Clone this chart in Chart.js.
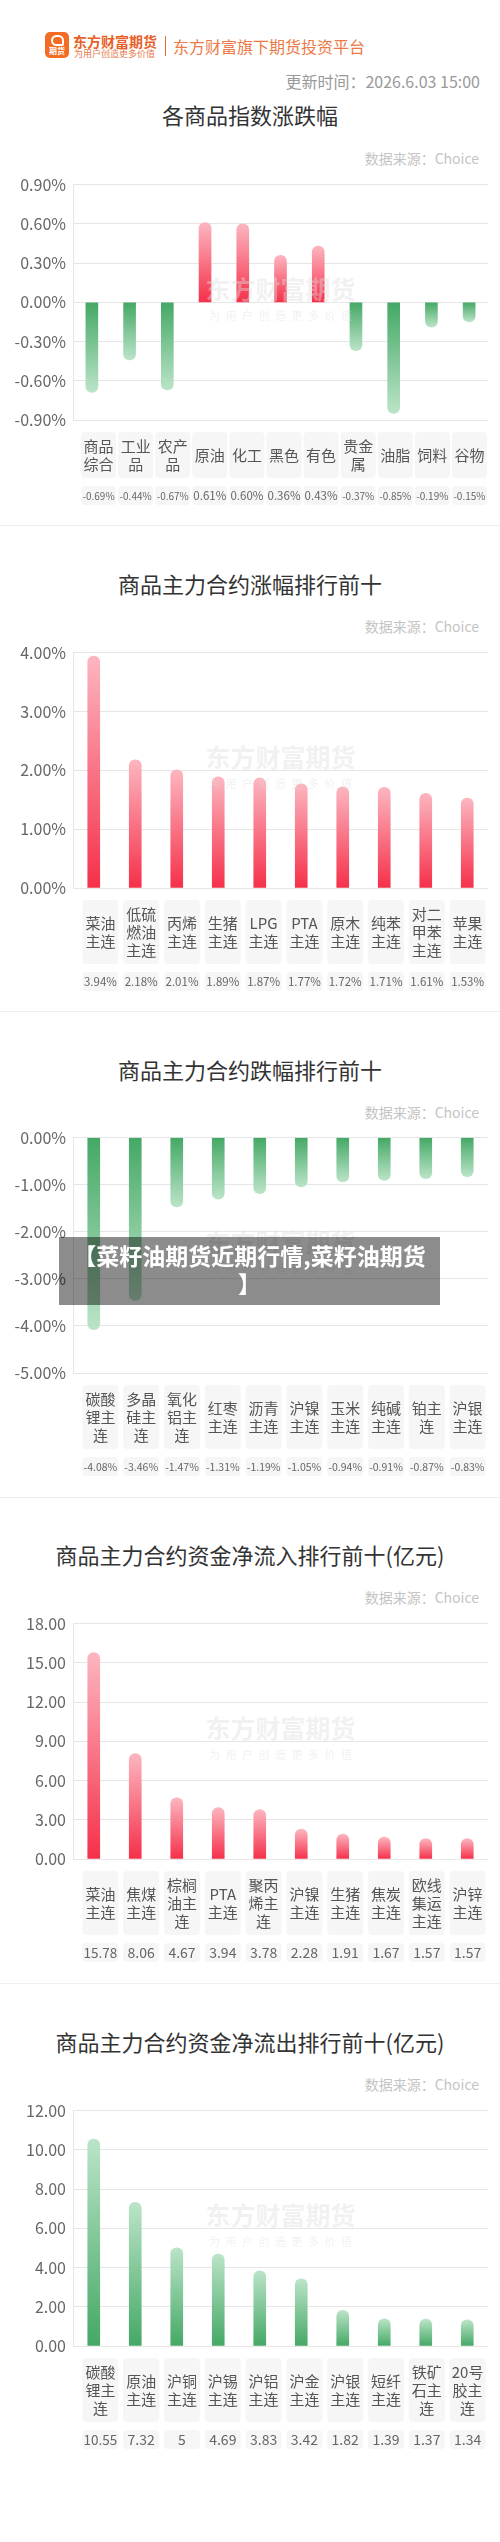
<!DOCTYPE html>
<html>
<head>
<meta charset="utf-8">
<script src="https://cdn.jsdelivr.net/npm/chart.js"></script>
<style>
body { margin: 0; background: #fff; font-family: "Noto Sans CJK SC", "Noto Sans", sans-serif; }
#page { position: relative; width: 500px; height: 2542px; overflow: hidden; }
.abs { position: absolute; white-space: nowrap; }
.title { position: absolute; left: 0; width: 500px; text-align: center; font-size: 22px; line-height: 30px; color: #333; }
.src { position: absolute; right: 21px; font-size: 14px; line-height: 20px; color: #c4c4c4; }
.sep { position: absolute; left: 0; width: 500px; height: 1px; background: #eee; }
canvas { position: absolute; left: 0; }
#banner { position: absolute; left: 59px; top: 1237px; width: 381px; height: 56px; padding: 4px 0 8px 0;
  background: rgba(0,0,0,0.45); color: #fff; font-weight: bold; font-size: 23px; line-height: 28px; text-align: center; white-space: nowrap; }
</style>
</head>
<body>
<div id="page">
  <!-- header -->
  <div class="abs" style="left:45px;top:32px;width:24px;height:26px;background:#f26c24;border-radius:5px;"></div>
  <div class="abs" style="left:51px;top:35px;width:9px;height:7px;border:2px solid #fff;border-radius:6px 6px 2px 6px;"></div>
  <div class="abs" style="left:45px;top:46px;width:24px;text-align:center;color:#fff;font-size:8px;font-weight:bold;line-height:10px;">期货</div>
  <div class="abs" style="left:73px;top:33px;font-size:14px;font-weight:bold;color:#e85f28;line-height:16px;">东方财富期货</div>
  <div class="abs" style="left:74px;top:49px;font-size:9px;color:#e87a4c;line-height:10px;">为用户创造更多价值</div>
  <div class="abs" style="left:165px;top:36px;width:1px;height:20px;background:#e8703c;"></div>
  <div class="abs" style="left:173px;top:35px;font-size:16px;line-height:22px;color:#ec7a46;">东方财富旗下期货投资平台</div>
  <div class="abs" style="right:20px;top:70px;font-size:16px;line-height:22px;color:#9a9a9a;">更新时间：2026.6.03 15:00</div>

  <div class="title" style="top:99px;">各商品指数涨跌幅</div>
  <div class="src" style="top:148px;">数据来源：Choice</div>
  <canvas id="c1" width="500" height="342" style="top:168px;"></canvas>
  <div class="sep" style="top:525px;"></div>

  <div class="title" style="top:568px;">商品主力合约涨幅排行前十</div>
  <div class="src" style="top:616px;">数据来源：Choice</div>
  <canvas id="c2" width="500" height="364" style="top:636px;"></canvas>
  <div class="sep" style="top:1011px;"></div>

  <div class="title" style="top:1054px;">商品主力合约跌幅排行前十</div>
  <div class="src" style="top:1102px;">数据来源：Choice</div>
  <canvas id="c3" width="500" height="364" style="top:1121px;"></canvas>
  <div class="sep" style="top:1497px;"></div>

  <div class="title" style="top:1539px;">商品主力合约资金净流入排行前十(亿元)</div>
  <div class="src" style="top:1587px;">数据来源：Choice</div>
  <canvas id="c4" width="500" height="364" style="top:1607px;"></canvas>
  <div class="sep" style="top:1983px;"></div>

  <div class="title" style="top:2026px;">商品主力合约资金净流出排行前十(亿元)</div>
  <div class="src" style="top:2074px;">数据来源：Choice</div>
  <canvas id="c5" width="500" height="364" style="top:2094px;"></canvas>

  <div id="banner">【菜籽油期货近期行情,菜籽油期货<br>】</div>
</div>
<script>
// --- data ---
const indexNames = ['商品综合', '工业品', '农产品', '原油', '化工', '黑色', '有色', '贵金属', '油脂', '饲料', '谷物'];
const indexChange = [-0.69, -0.44, -0.67, 0.61, 0.60, 0.36, 0.43, -0.37, -0.85, -0.19, -0.15];

const gainNames = ['菜油主连', '低硫燃油主连', '丙烯主连', '生猪主连', 'LPG主连', 'PTA主连', '原木主连', '纯苯主连', '对二甲苯主连', '苹果主连'];
const gainValues = [3.94, 2.18, 2.01, 1.89, 1.87, 1.77, 1.72, 1.71, 1.61, 1.53];

const lossNames = ['碳酸锂主连', '多晶硅主连', '氧化铝主连', '红枣主连', '沥青主连', '沪镍主连', '玉米主连', '纯碱主连', '铂主连', '沪银主连'];
const lossValues = [-4.08, -3.46, -1.47, -1.31, -1.19, -1.05, -0.94, -0.91, -0.87, -0.83];

const inflowNames = ['菜油主连', '焦煤主连', '棕榈油主连', 'PTA主连', '聚丙烯主连', '沪镍主连', '生猪主连', '焦炭主连', '欧线集运主连', '沪锌主连'];
const inflowValues = [15.78, 8.06, 4.67, 3.94, 3.78, 2.28, 1.91, 1.67, 1.57, 1.57];

const outflowNames = ['碳酸锂主连', '原油主连', '沪铜主连', '沪锡主连', '沪铝主连', '沪金主连', '沪银主连', '短纤主连', '铁矿石主连', '20号胶主连'];
const outflowValues = [10.55, 7.32, 5, 4.69, 3.83, 3.42, 1.82, 1.39, 1.37, 1.34];

// --- helpers ---
const FONT = '"Noto Sans CJK SC", "Noto Sans", sans-serif';
const RED = ['#f5304a', '#fcb6c0'];
const GREEN = ['#44a865', '#bbe4c8'];

const pct = v => (Math.abs(v) < 1e-9 ? 0 : v).toFixed(2) + '%';
const num = v => (Math.abs(v) < 1e-9 ? 0 : v).toFixed(2);

// gradient per bar: dark at the zero line, light at the tip
function barFill(c) {
  const chart = c.chart;
  const v = c.parsed ? c.parsed.y : 0;
  const cols = (v >= 0) === (chart.options.plugins.boxes.green !== true) ? RED : GREEN;
  if (!chart.chartArea || c.type !== 'data') return cols[0];
  const y = chart.scales.y;
  const p0 = y.getPixelForValue(0), p1 = y.getPixelForValue(v);
  if (Math.abs(p0 - p1) < 1) return cols[0];
  const g = chart.ctx.createLinearGradient(0, p0, 0, p1);
  g.addColorStop(0, cols[0]);
  g.addColorStop(1, cols[1]);
  return g;
}

function wrap(ctx, text, maxW) {
  const lines = [];
  let cur = '';
  for (const ch of text) {
    if (cur && ctx.measureText(cur + ch).width > maxW) { lines.push(cur); cur = ch; }
    else cur += ch;
  }
  if (cur) lines.push(cur);
  return lines;
}

function rrect(ctx, x, y, w, h, r) {
  ctx.beginPath();
  if (ctx.roundRect) ctx.roundRect(x, y, w, h, r); else ctx.rect(x, y, w, h);
  ctx.fill();
}

// category + value boxes under the plot, and the watermark
const boxPlugin = {
  id: 'boxes',
  afterDatasetsDraw(chart) {
    const ctx = chart.ctx, a = chart.chartArea;
    const cx = (a.left + a.right) / 2, cy = (a.top + a.bottom) / 2;
    ctx.save();
    ctx.fillStyle = 'rgba(222,222,222,0.42)';
    ctx.textAlign = 'center';
    ctx.textBaseline = 'middle';
    ctx.font = 'bold 25px ' + FONT;
    ctx.fillText('东方财富期货', cx, cy - 13);
    ctx.font = '11px ' + FONT;
    const sub = '为用户创造更多价值';
    for (let i = 0; i < sub.length; i++) ctx.fillText(sub[i], cx - 66 + i * 16.5, cy + 14);
    ctx.restore();
  },
  afterDraw(chart, args, opts) {
    const ctx = chart.ctx, a = chart.chartArea, x = chart.scales.x;
    const labels = chart.data.labels;
    const vals = chart.data.datasets[0].data;
    const n = labels.length;
    const w = a.right - a.left;
    const k = (w - 7) / w;
    const slot = (w - 7) / n;
    const bw = Math.min(36, slot - 2);
    ctx.save();
    ctx.textAlign = 'center';
    ctx.textBaseline = 'middle';
    ctx.font = '15px ' + FONT;
    const wrapped = labels.map(l => wrap(ctx, l, bw - 2));
    const lines = Math.max(...wrapped.map(r => r.length));
    const top = a.bottom + 12, h = lines * 18 + 10;
    const vtop = top + h + 8, vh = 19;
    labels.forEach((l, i) => {
      const c = a.left + 7 + (x.getPixelForValue(i) - a.left) * k;
      ctx.fillStyle = '#f6f6f6';
      rrect(ctx, c - bw / 2, top, bw, h, 4);
      rrect(ctx, c - bw / 2, vtop, bw, vh, 4);
      ctx.fillStyle = '#555';
      ctx.font = '15px ' + FONT;
      const rows = wrapped[i];
      const y0 = top + h / 2 - (rows.length - 1) * 9;
      rows.forEach((r, j) => ctx.fillText(r, c, y0 + j * 18));
      const t = opts.fmt(vals[i]);
      let size = 14;
      ctx.font = size + 'px ' + FONT;
      while (ctx.measureText(t).width > bw - 2 && size > 7) {
        size -= 0.5;
        ctx.font = size + 'px ' + FONT;
      }
      ctx.fillStyle = '#666';
      ctx.fillText(t, c, vtop + vh / 2 + 0.5);
    });
    ctx.restore();
  }
};

function makeChart(id, names, values, min, max, step, tickFmt, valFmt, green, padBottom) {
  return new Chart(document.getElementById(id), {
    type: 'bar',
    data: {
      labels: names,
      datasets: [{
        data: values,
        backgroundColor: barFill,
        barThickness: 12,
        borderRadius: 6,
        borderSkipped: 'start'
      }]
    },
    options: {
      responsive: false,
      animation: false,
      layout: { padding: { top: 12, right: 12, bottom: padBottom, left: 0 } },
      plugins: {
        legend: { display: false },
        tooltip: { enabled: false },
        boxes: { fmt: valFmt, green: green }
      },
      scales: {
        x: { display: false },
        y: {
          min: min, max: max,
          afterFit(s) { s.width = 73; },
          ticks: { stepSize: step, padding: 7, color: '#666', font: { size: 16, family: FONT }, callback: v => tickFmt(v) },
          grid: { color: '#e6e6e6', drawTicks: false },
          border: { color: '#e6e6e6' }
        }
      }
    },
    plugins: [boxPlugin]
  });
}

makeChart('c1', indexNames, indexChange, -0.9, 0.9, 0.3, pct, pct, false, 90);
makeChart('c2', gainNames, gainValues, 0, 4, 1, pct, pct, false, 112);
makeChart('c3', lossNames, lossValues, -5, 0, 1, pct, pct, false, 112);
makeChart('c4', inflowNames, inflowValues, 0, 18, 3, num, v => String(v), false, 112);
makeChart('c5', outflowNames, outflowValues, 0, 12, 2, num, v => String(v), true, 112);
</script>
</body>
</html>
